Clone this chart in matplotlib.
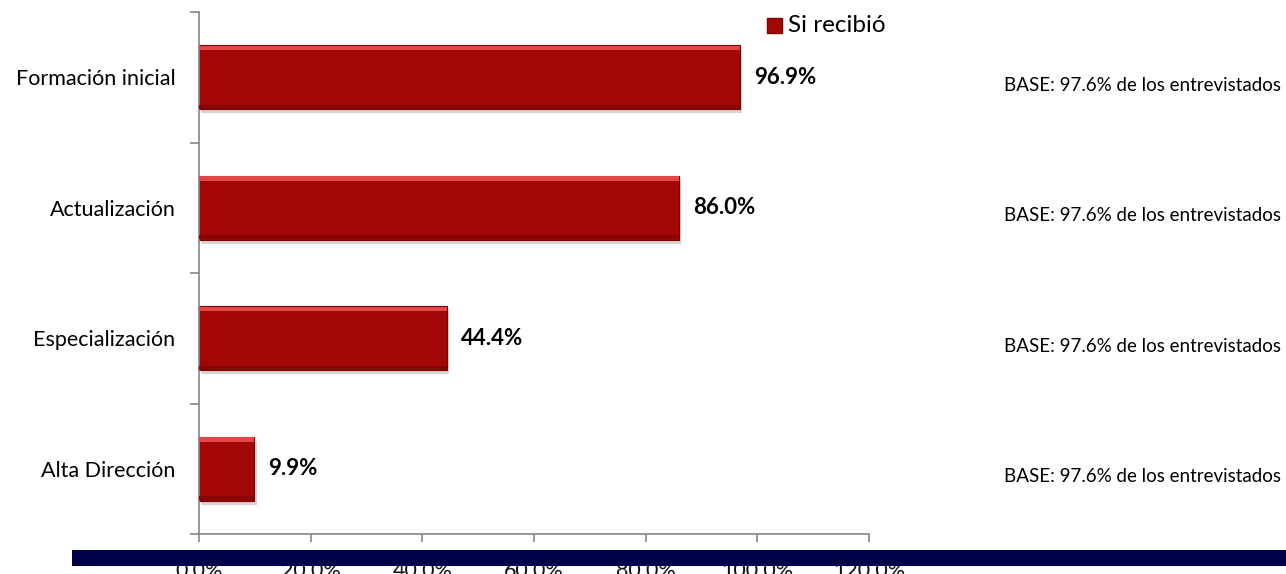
import numpy as np
import matplotlib.pyplot as plt
from matplotlib.patches import Rectangle

categories = ["Formación inicial", "Actualización", "Especialización", "Alta Dirección"]
values = [96.9, 86.0, 44.4, 9.9]
base_note = "BASE: 97.6% de los entrevistados"
legend_label = "Si recibió"
xticks = [0, 20, 40, 60, 80, 100, 120]

plt.rcParams['font.family'] = ['Lato', 'DejaVu Sans']

fig = plt.figure(figsize=(12.86, 5.74), dpi=100)
ax = fig.add_axes([199 / 1286, 1 - 534 / 574, 670 / 1286, 522 / 574])

y = np.arange(len(categories))
bar_h = 0.49
red = '#A30606'

# soft shadow, main bar, light top edge, darker bottom edge
ax.barh(y + 0.03, values, height=bar_h, left=0.4, color='#d4d4d4', zorder=1)
ax.barh(y, values, height=bar_h, color=red, edgecolor='#7d0303', linewidth=0.8, zorder=2)
ax.barh(y - bar_h / 2 + 0.02, values, height=0.035, color='#e04848', zorder=3)
ax.barh(y + bar_h / 2 - 0.018, values, height=0.03, color='#860404', zorder=3)

for yi, v in zip(y, values):
    ax.annotate(f"{v:.1f}%", (v, yi), xytext=(10, 0), textcoords='offset points',
                va='center', ha='left', fontsize=16, fontweight='bold', color='black')

ax.set_xlim(0, 120)
ax.set_ylim(len(categories) - 0.5, -0.5)
ax.set_xticks(xticks)
ax.set_xticklabels([f"{t:.1f}%" for t in xticks], fontsize=15.5, color='#111111')
ax.set_yticks(y)
ax.set_yticklabels(categories, fontsize=15.5)
ax.set_yticks(np.arange(-0.5, len(categories), 1.0), minor=True)

gray = '#868686'
for side in ['top', 'right']:
    ax.spines[side].set_visible(False)
for side in ['left', 'bottom']:
    ax.spines[side].set_color(gray)
    ax.spines[side].set_linewidth(1.2)
ax.tick_params(axis='y', which='major', length=0, pad=17)
ax.tick_params(axis='y', which='minor', length=6.5, width=1.2, color=gray, direction='out')
ax.tick_params(axis='x', length=6, width=1.2, color=gray, direction='out', pad=13.5)

# base notes on the right
for yi in y:
    yy = ax.transData.transform((0, yi))[1]
    fig.text(1281 / 1286, yy / 574 - 8 / 574, base_note, ha='right', va='center', fontsize=13.5)

# legend
fig.patches.append(Rectangle((767 / 1286, 1 - 33 / 574), 15 / 1286, 15 / 574,
                             transform=fig.transFigure, facecolor=red, edgecolor='#7d0303', zorder=2))
fig.text(788 / 1286, 1 - 26 / 574, legend_label, ha='left', va='center', fontsize=17.5)

# navy band across bottom
fig.patches.append(Rectangle((72 / 1286, 1 - 566 / 574), 1214 / 1286, 16 / 574,
                             transform=fig.transFigure, facecolor='#000046', edgecolor='none', zorder=1))

fig.savefig("out.png", dpi=100)
